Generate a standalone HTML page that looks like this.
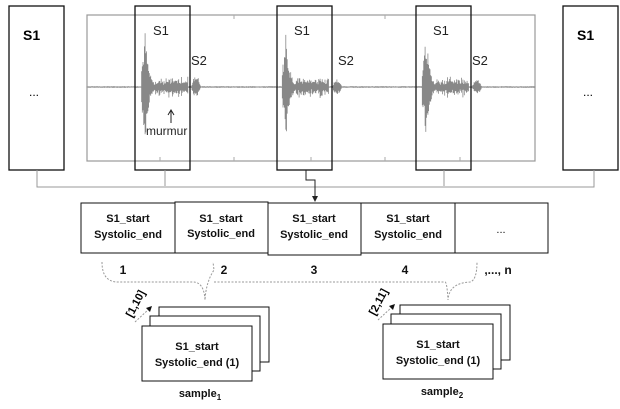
<!DOCTYPE html>
<html><head><meta charset="utf-8"><style>
body{margin:0;background:#fff;width:620px;height:404px;overflow:hidden}
svg text{font-family:"Liberation Sans",sans-serif}
</style></head><body>
<svg id="s" width="620" height="404" viewBox="0 0 620 404" xmlns="http://www.w3.org/2000/svg">
<rect x="87" y="15" width="448" height="146" fill="#fff" stroke="#999" stroke-width="1.2"/>
<line x1="87" y1="87" x2="535" y2="87" stroke="#888" stroke-width="1"/>
<g id="wave" stroke="#888" stroke-width="0.8" fill="none"></g>
<g stroke="#aaa" stroke-width="1"><line x1="160" y1="161" x2="160" y2="157"/><line x1="234" y1="161" x2="234" y2="157"/><line x1="311" y1="161" x2="311" y2="157"/><line x1="385" y1="161" x2="385" y2="157"/><line x1="460" y1="161" x2="460" y2="157"/><line x1="234" y1="15" x2="234" y2="19"/><line x1="385" y1="15" x2="385" y2="19"/></g>
<g font-size="13" fill="#222"><text x="153" y="35">S1</text><text x="191" y="65">S2</text><text x="294" y="35">S1</text><text x="338" y="65">S2</text><text x="433" y="35">S1</text><text x="472" y="65">S2</text>
<text x="146" y="135" font-size="12">murmur</text></g>
<line x1="171" y1="123" x2="171" y2="111" stroke="#222"/><path d="M168,115 L171,110 L174,115" fill="none" stroke="#222"/>
<g fill="none" stroke="#111" stroke-width="1.3">
<rect x="9" y="6" width="55" height="164" fill="#fff"/>
<rect x="563" y="6" width="55" height="164" fill="#fff"/>
<rect x="135" y="6" width="55" height="164"/>
<rect x="277" y="6" width="55" height="164"/>
<rect x="416" y="6" width="55" height="164"/>
</g>
<text x="23" y="40" font-weight="bold" font-size="14">S1</text><text x="577" y="40" font-weight="bold" font-size="14">S1</text>
<text x="29" y="96" font-size="12">...</text><text x="583" y="96" font-size="12">...</text>
<g fill="none" stroke="#999" stroke-width="1">
<path d="M37,170 V187 H594 V170"/>
<path d="M165,170 V186"/><path d="M444,170 V186"/>
</g>
<path d="M306,170 V180 H315 V198" fill="none" stroke="#222"/>
<path d="M312,196 L315,202 L318,196 Z" fill="#222"/>
<g fill="#fff" stroke="#111" stroke-width="1">
<rect x="81" y="203" width="94" height="50"/>
<rect x="175" y="202" width="93" height="51"/>
<rect x="268" y="203" width="93" height="52"/>
<rect x="361" y="203" width="94" height="50"/>
<rect x="455" y="203" width="93" height="50"/>
</g>
<g text-anchor="middle" font-weight="bold" font-size="11" fill="#111">
<text x="128" y="222">S1_start</text><text x="128" y="238">Systolic_end</text>
<text x="221" y="222">S1_start</text><text x="221" y="237">Systolic_end</text>
<text x="314" y="222">S1_start</text><text x="314" y="238">Systolic_end</text>
<text x="408" y="222">S1_start</text><text x="408" y="238">Systolic_end</text>
<text x="501" y="233" font-weight="normal">...</text>
<text x="123" y="274" font-size="12">1</text><text x="224" y="274" font-size="12">2</text><text x="314" y="274" font-size="12">3</text><text x="405" y="274" font-size="12">4</text><text x="498" y="274" font-size="12">,..., n</text>
</g>
<g fill="none" stroke="#999" stroke-width="1" stroke-dasharray="2,1.5">
<path d="M102,262 Q102,282 118,282 H193 Q204,282 205,300 Q206,282 214,270 L213,262"/>
<path d="M214,282 H445 Q447,282 448,300 Q449,283 470,282 Q477,280 477,262"/>
</g>
<g stroke="#999" stroke-dasharray="2,1.5" fill="none"><line x1="135" y1="322" x2="149" y2="309"/><line x1="378" y1="320" x2="392" y2="307"/></g>
<path d="M146,308 L152,306 L150,312 Z" fill="#111"/><path d="M389,306 L395,304 L393,310 Z" fill="#111"/>
<text transform="translate(132,318) rotate(-62)" font-size="11" font-weight="bold">[1,10]</text>
<text transform="translate(375,316) rotate(-62)" font-size="11" font-weight="bold">[2,11]</text>
<g fill="#fff" stroke="#111" stroke-width="1">
<rect x="159" y="307" width="110" height="55"/><rect x="150" y="316" width="110" height="55"/><rect x="142" y="326" width="110" height="55"/>
<rect x="400" y="305" width="110" height="55"/><rect x="391" y="314" width="110" height="55"/><rect x="383" y="324" width="110" height="55"/>
</g>
<g text-anchor="middle" font-weight="bold" font-size="11" fill="#111">
<text x="197" y="350">S1_start</text><text x="197" y="366">Systolic_end (1)</text>
<text x="438" y="348">S1_start</text><text x="438" y="364">Systolic_end (1)</text>
<text x="200" y="397">sample<tspan font-size="8" dy="3">1</tspan></text>
<text x="442" y="395">sample<tspan font-size="8" dy="3">2</tspan></text>
</g>
</svg>
<script>
var g=document.getElementById('wave'),d='';var seed=7;function r(){seed=(seed*9301+49297)%233280;return seed/233280;}
var beats=[143,284,424];
for(var x=87;x<535;x+=0.7){var a=0.8;
beats.forEach(function(b,i){var dx=x-b;if(dx>-2&&dx<12)a=Math.max(a,58*Math.exp(-Math.abs(dx-2)/3.5));if(dx>=12&&dx<45)a=Math.max(a,7*(0.6+r()));if(dx>48&&dx<58)a=Math.max(a,(i==0?12:8)*Math.sin((dx-48)/10*Math.PI));});
var y1=87-a*(0.5+0.5*r()),y2=87+a*(0.5+0.5*r());d+='M'+x.toFixed(1)+','+y1.toFixed(1)+'V'+y2.toFixed(1);}
var p=document.createElementNS('http://www.w3.org/2000/svg','path');p.setAttribute('d',d);g.appendChild(p);
</script>
</body></html>
